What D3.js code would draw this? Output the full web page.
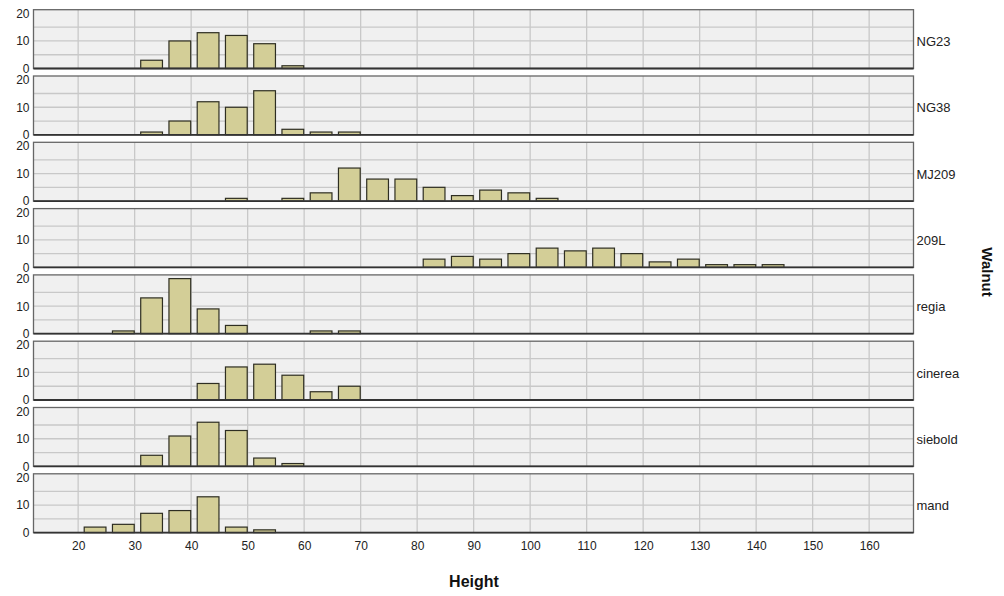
<!DOCTYPE html>
<html>
<head>
<meta charset="utf-8">
<script src="https://cdn.jsdelivr.net/npm/d3@7"></script>
<style>
  body { margin: 0; background: #fff; }
  svg text { font-family: "Liberation Sans", Arial, sans-serif; }
</style>
</head>
<body>
<div id="chart"></div>
<script>
// Data: bin centres (Height) and counts per walnut type
var groups = ["NG23", "NG38", "MJ209", "209L", "regia", "cinerea", "siebold", "mand"];
var binCenters = [23, 28, 33, 38, 43, 48, 53, 58, 63, 68, 73, 78, 83, 88, 93, 98, 103, 108, 113, 118, 123, 128, 133, 138, 143];
var countsNG23    = [0, 0, 3, 10, 13, 12, 9, 1, 0, 0, 0, 0, 0, 0, 0, 0, 0, 0, 0, 0, 0, 0, 0, 0, 0];
var countsNG38    = [0, 0, 1, 5, 12, 10, 16, 2, 1, 1, 0, 0, 0, 0, 0, 0, 0, 0, 0, 0, 0, 0, 0, 0, 0];
var countsMJ209   = [0, 0, 0, 0, 0, 1, 0, 1, 3, 12, 8, 8, 5, 2, 4, 3, 1, 0, 0, 0, 0, 0, 0, 0, 0];
var counts209L    = [0, 0, 0, 0, 0, 0, 0, 0, 0, 0, 0, 0, 3, 4, 3, 5, 7, 6, 7, 5, 2, 3, 1, 1, 1];
var countsRegia   = [0, 1, 13, 20, 9, 3, 0, 0, 1, 1, 0, 0, 0, 0, 0, 0, 0, 0, 0, 0, 0, 0, 0, 0, 0];
var countsCinerea = [0, 0, 0, 0, 6, 12, 13, 9, 3, 5, 0, 0, 0, 0, 0, 0, 0, 0, 0, 0, 0, 0, 0, 0, 0];
var countsSiebold = [0, 0, 4, 11, 16, 13, 3, 1, 0, 0, 0, 0, 0, 0, 0, 0, 0, 0, 0, 0, 0, 0, 0, 0, 0];
var countsMand    = [2, 3, 7, 8, 13, 2, 1, 0, 0, 0, 0, 0, 0, 0, 0, 0, 0, 0, 0, 0, 0, 0, 0, 0, 0];
var allCounts = [countsNG23, countsNG38, countsMJ209, counts209L, countsRegia, countsCinerea, countsSiebold, countsMand];
var xTicks = [20, 30, 40, 50, 60, 70, 80, 90, 100, 110, 120, 130, 140, 150, 160];
var yTicks = [0, 10, 20];
var yGrid = [5, 10, 15];

var width = 1004, height = 596;
var svg = d3.select("#chart").append("svg")
    .attr("width", width)
    .attr("height", height);

var left = 33.5, right = 913.5;
var panelTop = 9.7, panelStep = 66.3, panelH = 58.8;
var binWidth = 3.85;

var x = d3.scaleLinear().domain([12.1, 167.85]).range([left, right]);
var y = d3.scaleLinear().domain([0, 21.35]).range([panelH, 0]);

groups.forEach(function (g, i) {
    var top = panelTop + i * panelStep;
    var panel = svg.append("g").attr("transform", "translate(0," + top + ")");

    panel.append("rect")
        .attr("x", left).attr("y", 0)
        .attr("width", right - left).attr("height", panelH)
        .attr("fill", "#f0f0f0");

    // grid
    panel.selectAll(".vgrid").data(xTicks).enter().append("line")
        .attr("x1", d => x(d)).attr("x2", d => x(d))
        .attr("y1", 0).attr("y2", panelH)
        .attr("stroke", "#c8c8c8").attr("stroke-width", 1.3);
    panel.selectAll(".hgrid").data(yGrid).enter().append("line")
        .attr("x1", left).attr("x2", right)
        .attr("y1", d => y(d)).attr("y2", d => y(d))
        .attr("stroke", "#c8c8c8").attr("stroke-width", 1.3);

    // bars
    var data = binCenters.map(function (c, j) { return { c: c, n: allCounts[i][j] }; })
        .filter(d => d.n > 0);
    panel.selectAll(".bar").data(data).enter().append("rect")
        .attr("x", d => x(d.c - binWidth / 2))
        .attr("width", d => x(d.c + binWidth / 2) - x(d.c - binWidth / 2))
        .attr("y", d => y(d.n))
        .attr("height", d => y(0) - y(d.n))
        .attr("fill", "#d3ce97")
        .attr("stroke", "#2e2e22")
        .attr("stroke-width", 1.2);

    // border
    panel.append("rect")
        .attr("x", left).attr("y", 0)
        .attr("width", right - left).attr("height", panelH)
        .attr("fill", "none")
        .attr("stroke", "#666").attr("stroke-width", 1.3);
    panel.append("line")
        .attr("x1", left).attr("x2", right)
        .attr("y1", panelH).attr("y2", panelH)
        .attr("stroke", "#333").attr("stroke-width", 1.8);

    // y axis labels
    var yAxis = d3.axisLeft(y).tickValues(yTicks).tickSize(0).tickPadding(4);
    var ya = panel.append("g").attr("transform", "translate(" + left + ",0)").call(yAxis);
    ya.select(".domain").remove();
    ya.selectAll("text").attr("font-size", 12).attr("fill", "#222")
        .attr("font-family", "Liberation Sans, Arial, sans-serif");

    // panel label
    panel.append("text")
        .attr("x", right + 3).attr("y", panelH / 2 + 7)
        .attr("font-size", 13).attr("fill", "#222")
        .text(g);
});

// x axis
var xAxis = d3.axisBottom(x).tickValues(xTicks).tickSize(0).tickPadding(9);
var bottom = panelTop + 7 * panelStep + panelH;
var xa = svg.append("g").attr("transform", "translate(0," + bottom + ")").call(xAxis);
xa.select(".domain").remove();
xa.selectAll("text").attr("font-size", 12).attr("fill", "#222")
    .attr("font-family", "Liberation Sans, Arial, sans-serif");

svg.append("text")
    .attr("x", 474).attr("y", 587)
    .attr("text-anchor", "middle")
    .attr("font-size", 16).attr("font-weight", "bold").attr("fill", "#111")
    .text("Height");

svg.append("text")
    .attr("transform", "translate(982,272) rotate(90)")
    .attr("text-anchor", "middle")
    .attr("font-size", 15).attr("font-weight", "bold").attr("fill", "#111")
    .text("Walnut");
</script>
</body>
</html>
